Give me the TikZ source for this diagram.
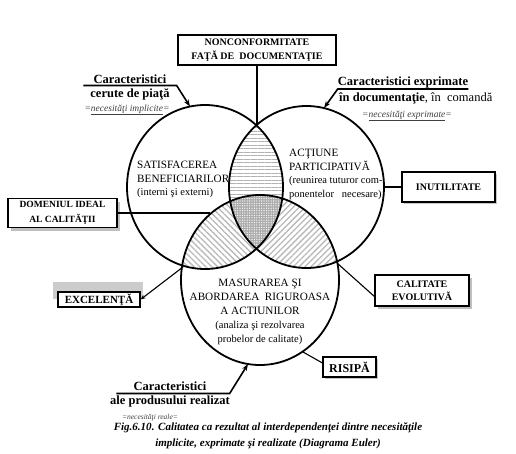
\documentclass[tikz,border=0pt]{standalone}
\usepackage{fontspec}
\setmainfont{Liberation Serif}
\usetikzlibrary{positioning,arrows.meta,shadows,patterns.meta}
\newcommand{\fsz}[2]{\fontsize{#1}{#2}\selectfont}
\newcommand{\capsz}{\fontsize{11.2}{13.5}\selectfont}

% the three sets of the diagram
\def\ellL{(cL) ellipse [x radius=78pt, y radius=82pt]}
\def\ellR{(cR) ellipse [x radius=77.5pt, y radius=81pt]}
\def\ellB{(cB) ellipse [x radius=79pt, y radius=85pt]}

\begin{document}
\begin{tikzpicture}[x=1pt, y=-1pt,
    tagbox/.style={rectangle, draw=black, line width=1.1pt, fill=white, align=center,
                   inner sep=1pt, font=\bfseries\fsz{10}{13.5}},
    boxshadow/.style={general shadow={fill=gray!50, shadow xshift=3pt, shadow yshift=-3pt}},
    ring/.style={line width=1.8pt},
    link/.style={line width=1.1pt},
    pointer/.style={line width=1.6pt, -{Stealth[length=7pt,width=5pt]}},
    circtext/.style={font=\fsz{10.5}{13.5}, inner sep=0pt},
    feature/.style={font=\bfseries\fsz{12.5}{14}, inner sep=0pt, anchor=base},
    need/.style={font=\itshape\fsz{9.5}{10}, text=black!75, inner sep=0pt, anchor=base}
]
    \fill[white] (0,0) rectangle (516,453);
    \useasboundingbox (0,0) rectangle (516,453);

    % centres
    \coordinate (cL) at (205,187);
    \coordinate (cR) at (306.5,187);
    \coordinate (cB) at (260,280);

    % hatched overlaps
    \begin{scope}
        \clip \ellL;
        \fill[pattern={Lines[angle=-45,distance=4.2pt,line width=1.3pt]}, pattern color=gray!55] \ellB;
    \end{scope}
    \begin{scope}
        \clip \ellR;
        \fill[pattern={Lines[angle=45,distance=4.2pt,line width=1.3pt]}, pattern color=gray!55] \ellB;
    \end{scope}
    \begin{scope}
        \clip \ellL;
        \fill[pattern={Lines[angle=0,distance=3.5pt,line width=0.7pt]}, pattern color=gray!60] \ellR;
    \end{scope}
    \begin{scope}
        \clip \ellL;
        \clip \ellR;
        \fill[gray!65] \ellB;
        \fill[pattern={Dots[distance=2.4pt,radius=0.65pt]}, pattern color=white] \ellB;
    \end{scope}

    \draw[ring] \ellL;
    \draw[ring] \ellR;
    \draw[ring] \ellB;

    % texts inside the circles
    \node[circtext, anchor=north west, align=left] (satisf) at (137,161)
        {{\capsz SATISFACEREA}\\{\capsz BENEFICIARILOR}\\(interni şi externi)};
    \node[circtext, anchor=north west, align=left] (actiune) at (289,149)
        {{\capsz ACŢIUNE}\\{\capsz PARTICIPATIVĂ}\\(reunirea tuturor com-\\ponentelor\ \ \ necesare)};
    \node[circtext, anchor=north, align=center, font=\fsz{10.5}{14}] (masur) at (260,279)
        {{\capsz MASURAREA ŞI}\\{\capsz ABORDAREA\ \ RIGUROASA}\\{\capsz A ACTIUNILOR}\\(analiza şi rezolvarea\\probelor de calitate)};

    % points on the outlines
    \coordinate (topX) at (257,125);
    \coordinate (leftX) at (183,267);
    \coordinate (rightX) at (337,263);
    \coordinate (edgeB) at (210,213);
    \coordinate (edgeR) at (384,187);
    \coordinate (edgeRB) at (303,352);
    \coordinate (tipL) at (190,106.5);
    \coordinate (tipR) at (324,108);
    \coordinate (tipB) at (248,364);

    % boxes
    \node[tagbox, minimum width=158pt, minimum height=30pt] (nonconf) at (257,50)
        {NONCONFORMITATE\\FAŢĂ DE\ \ DOCUMENTAŢIE};
    \node[tagbox, boxshadow, minimum width=109pt, minimum height=29pt, font=\bfseries\fsz{9.5}{15}] (domeniu) at (62.5,213)
        {DOMENIUL IDEAL\\AL CALITĂŢII};
    \node[tagbox, general shadow={fill=gray!40, shadow xshift=-1pt, shadow yshift=8pt, shadow scale=1.1},
          minimum width=82pt, minimum height=15pt, font=\bfseries\fsz{11}{12}] (excel) at (99,299.5) {EXCELENŢĂ};
    \node[tagbox, general shadow={fill=gray!45, shadow xshift=2pt, shadow yshift=-2pt},
          minimum width=93pt, minimum height=30pt] (inutil) at (448.5,187) {INUTILITATE};
    \node[tagbox, boxshadow, minimum width=94pt, minimum height=31pt, font=\bfseries\fsz{10}{13}] (calit) at (422,290.5)
        {CALITATE\\EVOLUTIVĂ};
    \node[tagbox, general shadow={fill=gray!45, shadow xshift=2pt, shadow yshift=-2pt},
          minimum width=53pt, minimum height=20pt, font=\bfseries\fsz{12}{13}] (risipa) at (349.5,367) {RISIPĂ};

    % box connectors
    \draw[link] (nonconf.south) -- (topX);
    \draw[link] (domeniu.east) -- (edgeB);
    \draw[link, {Stealth[length=5pt,width=4pt]}-] (excel.east) -- (leftX);
    \draw[link] (inutil.west) -- (edgeR);
    \draw[link] ([yshift=-6pt]calit.west) -- (rightX);
    \draw[link] ([yshift=4pt]risipa.west) -- (edgeRB);

    % labels of the sets
    \node[feature] (carL) at (130,83) {Caracteristici};
    \node[feature] (carL2) at (130,97) {cerute de piaţă};
    \node[need] (needL) at (127,111) {=\underline{necesităţi implicite}=};
    \draw[pointer] ([xshift=-10pt,yshift=-2.5pt]carL.base west) -- ([xshift=10pt,yshift=-2.5pt]carL.base east) -- (tipL);

    \node[feature] (carR) at (403,85.5) {Caracteristici exprimate};
    \node[feature, anchor=base west, font=\fsz{12.5}{14}] (carR2) at (339,101) {\textbf{în documentaţie}, în\ \ comandă};
    \node[need] (needR) at (407,117) {=\underline{necesităţi exprimate}=};
    \draw[pointer] ([yshift=-3.5pt]carR.base east) -- ([yshift=-3.5pt]carR.base west) -- (tipR);

    \node[feature] (carB) at (170,390) {Caracteristici};
    \node[feature] (carB2) at (170,404) {ale produsului realizat};
    \node[need, font=\itshape\fsz{7.5}{9}] (needB) at (150,419) {=necesităţi reale=};
    \draw[pointer] ([xshift=-17pt,yshift=-3.5pt]carB.base west) -- ([xshift=23pt,yshift=-3.5pt]carB.base east) -- (tipB);

    % caption
    \node[anchor=north, align=center, inner sep=0pt, font=\bfseries\itshape\fsz{11}{15.5}] (caption) at (268,423)
        {Fig.6.10. Calitatea ca rezultat al interdependenţei dintre necesităţile\\implicite, exprimate şi realizate (Diagrama Euler)};
\end{tikzpicture}
\end{document}
